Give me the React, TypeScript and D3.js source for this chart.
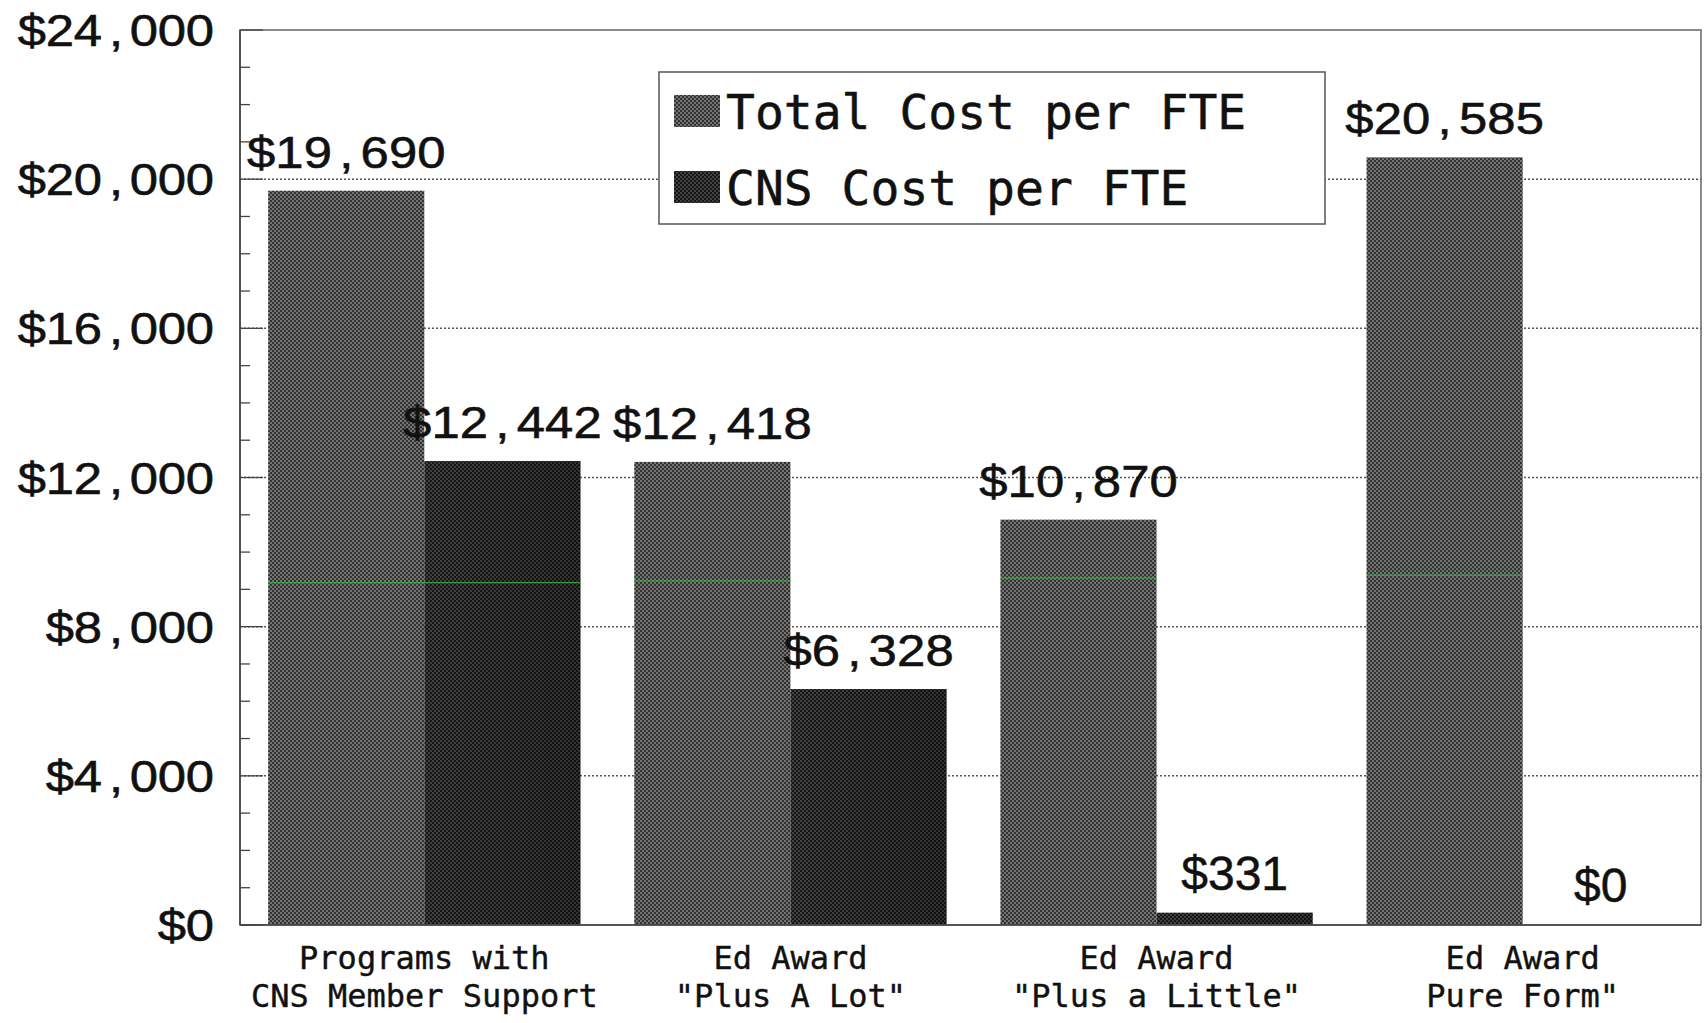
import React from "react";
import * as d3 from "d3";

const categories: string[][] = [
  ["Programs with", "CNS Member Support"],
  ["Ed Award", "\"Plus A Lot\""],
  ["Ed Award", "\"Plus a Little\""],
  ["Ed Award", "Pure Form\""],
];
const seriesNames = ["Total Cost per FTE", "CNS Cost per FTE"];
const totalCost = [19690, 12418, 10870, 20585];
const cnsCost = [12442, 6328, 331, 0];
const yTicks = [0, 4000, 8000, 12000, 16000, 20000, 24000];
const minorTicks = d3.range(0, 24001, 1000);
// faint green scan line seen across the bars in the reference (value level per group)
const scanLine = [9180, 9230, 9300, 9380];

const W = 1705;
const H = 1023;
const M = { left: 240, right: 1701, top: 30, bottom: 925 };

const SANS = "'Liberation Sans', Arial, Helvetica, sans-serif";
const MONO = "'DejaVu Sans Mono', 'Liberation Mono', monospace";

function CellText(props: {
  text: string;
  x: number;
  y: number;
  anchor: "start" | "middle" | "end";
  adv: number;
  size: number;
  sx: number;
}) {
  const { text, x, y, anchor, adv, size, sx } = props;
  const n = text.length;
  const start = anchor === "end" ? x - n * adv : anchor === "middle" ? x - (n * adv) / 2 : x;
  return (
    <g>
      {text.split("").map((ch, i) => (
        <text
          key={i}
          transform={`translate(${start + (i + 0.5) * adv},${y}) scale(${sx},1)`}
          textAnchor="middle"
          fontFamily={SANS}
          fontSize={size}
          fill="#111"
          stroke="#111"
          strokeWidth={0.6}
        >
          {ch}
        </text>
      ))}
    </g>
  );
}

export default function App() {
  const fmt = d3.format("$,");
  const y = d3.scaleLinear().domain([0, 24000]).range([M.bottom, M.top]);
  const x0 = d3
    .scaleBand<number>()
    .domain(d3.range(categories.length))
    .range([M.left + 4, M.right + 2])
    .paddingInner(0.147)
    .paddingOuter(0.066);
  const x1 = d3.scaleBand<number>().domain([0, 1]).range([0, x0.bandwidth()]).padding(0);
  const series = [totalCost, cnsCost];
  const fills = ["url(#patTotal)", "url(#patCns)"];

  return (
    <svg
      width={W}
      height={H}
      style={{ position: "absolute", left: 0, top: 0, background: "#fff" }}
    >
      <defs>
        <pattern id="patTotal" width="4" height="4" patternUnits="userSpaceOnUse">
          <rect width="4" height="4" fill="#323232" />
          <circle cx="1" cy="1" r="1" fill="#8a8a8a" />
          <circle cx="3" cy="3" r="1" fill="#8a8a8a" />
        </pattern>
        <pattern id="patCns" width="4" height="4" patternUnits="userSpaceOnUse">
          <rect width="4" height="4" fill="#161616" />
          <circle cx="1" cy="1" r="1" fill="#505050" />
          <circle cx="3" cy="3" r="1" fill="#505050" />
        </pattern>
        <linearGradient id="shadeCns" x1="0" y1="0" x2="1" y2="0">
          <stop offset="0" stopColor="#000" stopOpacity="0" />
          <stop offset="1" stopColor="#000" stopOpacity="0.25" />
        </linearGradient>
      </defs>

      {/* grid lines */}
      {yTicks
        .filter((t) => t > 0 && t < 24000)
        .map((t) => (
          <line
            key={`g${t}`}
            x1={M.left}
            x2={M.right}
            y1={y(t)}
            y2={y(t)}
            stroke="#555"
            strokeWidth={1.5}
            strokeDasharray="2,2"
          />
        ))}

      {/* bars */}
      {categories.map((_, gi) => (
        <g key={`grp${gi}`}>
          {series.map((s, si) => {
            const bx = (x0(gi) as number) + (x1(si) as number);
            const bw = x1.bandwidth();
            const by = y(s[gi]);
            const bh = y(0) - y(s[gi]);
            return (
              <g key={`b${gi}-${si}`}>
                <rect x={bx} y={by} width={bw} height={bh} fill={fills[si]} />
                {si === 1 && bh > 0 && (
                  <rect x={bx} y={by} width={bw} height={bh} fill="url(#shadeCns)" />
                )}
              </g>
            );
          })}
          {series.map((s, si) =>
            s[gi] > scanLine[gi] ? (
              <line
                key={`sc${gi}-${si}`}
                x1={(x0(gi) as number) + (x1(si) as number)}
                x2={(x0(gi) as number) + (x1(si) as number) + x1.bandwidth()}
                y1={y(scanLine[gi])}
                y2={y(scanLine[gi])}
                stroke="#3fae4a"
                strokeWidth={1.3}
                opacity={0.85}
              />
            ) : null
          )}
        </g>
      ))}

      {/* value labels */}
      {categories.map((_, gi) =>
        series.map((s, si) => {
          const cx = (x0(gi) as number) + (x1(si) as number) + x1.bandwidth() / 2;
          const v = s[gi];
          const ly = y(v) - 23;
          if (v < 1000) {
            return (
              <text
                key={`l${gi}-${si}`}
                x={cx}
                y={ly}
                textAnchor="middle"
                fontFamily={SANS}
                fontSize={48}
                fill="#111"
                stroke="#111"
                strokeWidth={0.5}
              >
                {fmt(v)}
              </text>
            );
          }
          return (
            <CellText
              key={`l${gi}-${si}`}
              text={fmt(v)}
              x={cx}
              y={ly}
              anchor="middle"
              adv={28.4}
              size={45}
              sx={1.13}
            />
          );
        })
      )}

      {/* frame */}
      <rect
        x={M.left}
        y={M.top}
        width={M.right - M.left}
        height={M.bottom - M.top}
        fill="none"
        stroke="#666"
        strokeWidth={1.5}
      />
      <line x1={M.left} x2={M.left} y1={M.top} y2={M.bottom} stroke="#444" strokeWidth={1.6} />
      <line x1={M.left} x2={M.right} y1={M.bottom} y2={M.bottom} stroke="#444" strokeWidth={1.6} />

      {/* ticks */}
      {minorTicks.map((t) => (
        <line
          key={`m${t}`}
          x1={M.left}
          x2={M.left + (t % 4000 === 0 ? 23 : 10)}
          y1={y(t)}
          y2={y(t)}
          stroke="#444"
          strokeWidth={1.3}
        />
      ))}

      {/* y tick labels */}
      {yTicks.map((t) => (
        <CellText
          key={`yl${t}`}
          text={fmt(t)}
          x={214}
          y={y(t) + 16}
          anchor="end"
          adv={28}
          size={45}
          sx={1.13}
        />
      ))}

      {/* x labels */}
      {categories.map((lines, gi) => {
        const cx = (x0(gi) as number) + x0.bandwidth() / 2;
        return (
          <g key={`xl${gi}`}>
            {lines.map((ln, li) => (
              <text
                key={li}
                x={cx}
                y={969 + li * 38}
                textAnchor="middle"
                fontFamily={MONO}
                fontSize={32}
                fill="#111"
                stroke="#111"
                strokeWidth={0.4}
              >
                {ln}
              </text>
            ))}
          </g>
        );
      })}

      {/* legend */}
      <g>
        <rect x={659} y={72} width={666} height={152} fill="#fff" stroke="#555" strokeWidth={1.5} />
        {seriesNames.map((nm, i) => (
          <g key={nm}>
            <rect x={674} y={95 + i * 76} width={46} height={32} fill={fills[i]} />
            <text
              x={726}
              y={129 + i * 76}
              fontFamily={MONO}
              fontSize={48}
              fill="#111"
              stroke="#111"
              strokeWidth={0.5}
            >
              {nm}
            </text>
          </g>
        ))}
      </g>
    </svg>
  );
}
